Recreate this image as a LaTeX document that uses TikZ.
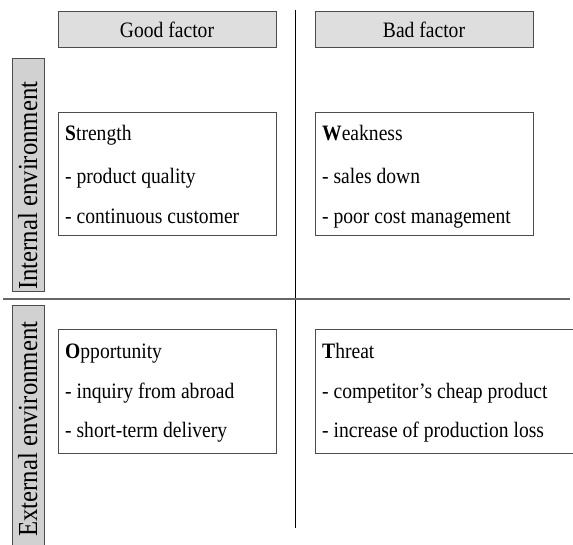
\documentclass[tikz,border=0pt]{standalone}
\usepackage{fontspec}
\setmainfont{Liberation Serif}[FakeStretch=0.89]
\newfontfamily\sidefont{Liberation Serif}[FakeStretch=0.9]
\usetikzlibrary{positioning}

\tikzset{
	header/.style={draw=black!70, line width=1pt, fill=black!13, minimum width=218pt, minimum height=36pt, inner sep=0pt, font=\fontsize{22}{26}\selectfont},
	sidebox/.style={draw=black!70, line width=1pt, fill=black!18, minimum width=32pt, inner sep=0pt},
	sidetext/.style={rotate=90, anchor=base west, inner sep=0pt, font=\sidefont\fontsize{27.5}{30}\selectfont},
	swot/.style={draw=black!70, line width=1pt, minimum width=218pt, minimum height=123pt, inner sep=0pt},
	item/.style={anchor=base west, inner sep=0pt, font=\fontsize{22}{26}\selectfont}
}
\newcommand{\firstbold}[2]{\textbf{#1}#2}

\begin{document}
\begin{tikzpicture}[x=1pt, y=-1pt]
			%%%%% START %%%%%
			\clip (0, 0) rectangle (573, 545);
			
			% dividing lines
			\draw[line width=1pt, color=black] (295, 10) -- (295, 528);
			\draw[line width=2pt, color=black!60] (3, 299) -- (570, 299);
			
			% column headers
			\node[header] (good) at (167, 30) {Good factor};
			\node[header] (bad) at (424, 30) {Bad factor};
			
			% row labels
			\node[sidebox, minimum height=233pt] (internal) at (28, 175.5) {};
			\node[sidetext] (internaltext) at (37, 290) {Internal environment};
			\node[sidebox, minimum height=264pt] (external) at (28, 438) {};
			\node[sidetext] (externaltext) at (37, 537) {External environment};
			
			% quadrants
			\node[swot] (strength) at (167, 174.5) {};
			\node[item] at (65, 141) {\firstbold{S}{trength}};
			\node[item] at (65, 184) {- product quality};
			\node[item] at (65, 224) {- continuous customer};
			
			\node[swot] (weakness) at (424, 174.5) {};
			\node[item] at (322, 141) {\firstbold{W}{eakness}};
			\node[item] at (322, 184) {- sales down};
			\node[item] at (322, 224) {- poor cost management};
			
			\node[swot] (opportunity) at (167, 391.5) {};
			\node[item] at (65, 358) {\firstbold{O}{pportunity}};
			\node[item] at (65, 398) {- inquiry from abroad};
			\node[item] at (65, 437) {- short-term delivery};
			
			\node[swot, minimum width=285pt] (threat) at (457.5, 391.5) {};
			\node[item] at (322, 358) {\firstbold{T}{hreat}};
			\node[item] at (322, 398) {- competitor's cheap product};
			\node[item] at (322, 437) {- increase of production loss};
			
			%%%%% END %%%%%
\end{tikzpicture}
\end{document}
